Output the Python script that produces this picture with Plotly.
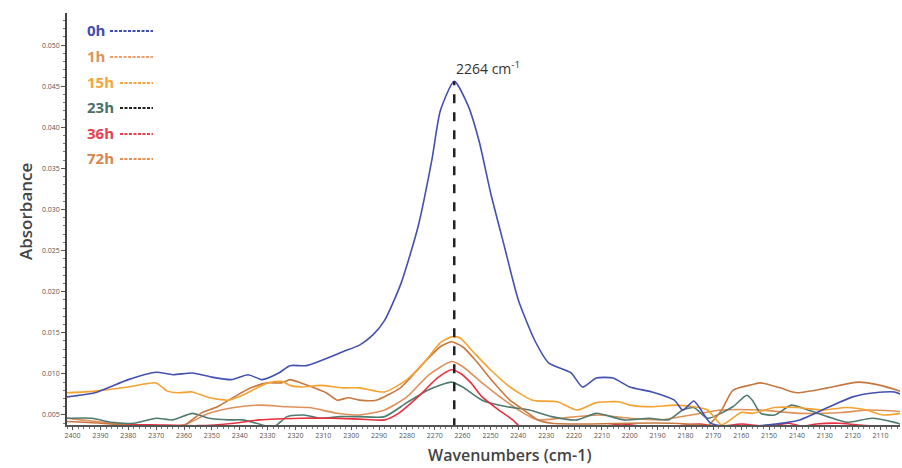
import plotly.graph_objects as go

# ---- data ----
series_names = ["0h", "1h", "15h", "23h", "36h", "72h"]

wn_0h = [2402, 2392, 2380, 2370, 2364, 2357, 2350, 2343, 2337, 2332, 2326, 2322, 2316, 2308, 2303,
         2297, 2292, 2288, 2282, 2276, 2271, 2268, 2263, 2258, 2254, 2250, 2245, 2240, 2234, 2229,
         2221, 2217, 2212, 2206, 2200, 2192, 2184, 2181, 2177, 2175, 2171, 2165, 2158, 2150, 2139,
         2129, 2120, 2112, 2105, 2102]
abs_0h = [0.0072, 0.0077, 0.0093, 0.0102, 0.0099, 0.0101, 0.0096, 0.0093, 0.0099, 0.0093, 0.0101,
          0.0110, 0.0110, 0.0120, 0.0127, 0.0135, 0.0148, 0.0165, 0.0211, 0.0279, 0.0361, 0.0420,
          0.0456, 0.0426, 0.0382, 0.0321, 0.0255, 0.0190, 0.0140, 0.0113, 0.0101, 0.0084, 0.0095,
          0.0095, 0.0084, 0.0078, 0.0068, 0.0056, 0.0067, 0.0059, 0.0040, 0.0036, 0.0036, 0.0038,
          0.0044, 0.0059, 0.0072, 0.0077, 0.0078, 0.0074]

wn_1h = [2402, 2390, 2375, 2365, 2360, 2354, 2348, 2342, 2336, 2330, 2325, 2322, 2318, 2314, 2309,
         2305, 2301, 2297, 2291, 2282, 2274, 2268, 2264, 2260, 2255, 2249, 2243, 2238, 2233, 2228,
         2215, 2200, 2185, 2175, 2172, 2167, 2163, 2156, 2153, 2146, 2140, 2129, 2118, 2110, 2102]
abs_1h = [0.0042, 0.0040, 0.0036, 0.0034, 0.0037, 0.0052, 0.0060, 0.0072, 0.0083, 0.0089, 0.0089,
          0.0093, 0.0089, 0.0084, 0.0077, 0.0068, 0.0071, 0.0068, 0.0068, 0.0084, 0.0113, 0.0133,
          0.0139, 0.0133, 0.0115, 0.0090, 0.0068, 0.0056, 0.0044, 0.0040, 0.0039, 0.0040, 0.0040,
          0.0038, 0.0037, 0.0056, 0.0080, 0.0087, 0.0089, 0.0083, 0.0077, 0.0083, 0.0090, 0.0086,
          0.0078]

wn_15h = [2402, 2392, 2380, 2370, 2366, 2362, 2357, 2351, 2344, 2339, 2330, 2325, 2322, 2318, 2311,
          2303, 2297, 2288, 2280, 2273, 2268, 2264, 2261, 2256, 2250, 2243, 2235, 2226, 2219, 2212,
          2204, 2200, 2192, 2184, 2177, 2172, 2167, 2160, 2156, 2148, 2140, 2131, 2122, 2115, 2109,
          2102]
abs_15h = [0.0077, 0.0079, 0.0084, 0.0089, 0.0079, 0.0077, 0.0078, 0.0071, 0.0068, 0.0074, 0.0089,
           0.0091, 0.0086, 0.0084, 0.0086, 0.0083, 0.0083, 0.0078, 0.0093, 0.0117, 0.0138, 0.0145,
           0.0144, 0.0126, 0.0105, 0.0084, 0.0068, 0.0066, 0.0056, 0.0065, 0.0066, 0.0062, 0.0060,
           0.0062, 0.0060, 0.0056, 0.0038, 0.0053, 0.0052, 0.0059, 0.0059, 0.0056, 0.0059, 0.0056,
           0.0050, 0.0052]

wn_23h = [2402, 2393, 2386, 2378, 2370, 2364, 2357, 2351, 2344, 2339, 2334, 2328, 2323, 2317, 2311,
          2304, 2297, 2288, 2280, 2272, 2264, 2260, 2253, 2244, 2236, 2228, 2219, 2212, 2202, 2193,
          2186, 2181, 2177, 2172, 2163, 2158, 2156, 2153, 2148, 2142, 2136, 2129, 2122, 2113, 2105,
          2102]
abs_23h = [0.0046, 0.0046, 0.0041, 0.0040, 0.0046, 0.0044, 0.0052, 0.0046, 0.0044, 0.0044, 0.0040,
           0.0035, 0.0048, 0.0050, 0.0046, 0.0048, 0.0048, 0.0048, 0.0065, 0.0081, 0.0090, 0.0084,
           0.0068, 0.0060, 0.0056, 0.0048, 0.0044, 0.0052, 0.0044, 0.0046, 0.0044, 0.0056, 0.0059,
           0.0046, 0.0060, 0.0074, 0.0068, 0.0052, 0.0050, 0.0062, 0.0056, 0.0048, 0.0041, 0.0046,
           0.0041, 0.0038]

wn_36h = [2402, 2390, 2380, 2372, 2355, 2342, 2333, 2318, 2307, 2297, 2288, 2283, 2276, 2269, 2264,
          2261, 2257, 2253, 2247, 2242, 2239, 2225, 2210, 2203, 2195, 2185, 2175, 2168, 2160, 2150,
          2143, 2138, 2133, 2125, 2115, 2102]
abs_36h = [0.0036, 0.0036, 0.0038, 0.0038, 0.0037, 0.0040, 0.0044, 0.0046, 0.0046, 0.0045, 0.0044,
           0.0052, 0.0072, 0.0095, 0.0105, 0.0101, 0.0089, 0.0072, 0.0056, 0.0044, 0.0035, 0.0036,
           0.0036, 0.0039, 0.0036, 0.0036, 0.0039, 0.0036, 0.0039, 0.0036, 0.0040, 0.0036, 0.0039,
           0.0040, 0.0037, 0.0036]

wn_72h = [2402, 2397, 2386, 2375, 2360, 2351, 2342, 2333, 2323, 2315, 2305, 2297, 2288, 2280, 2272,
          2264, 2260, 2253, 2245, 2238, 2233, 2225, 2211, 2200, 2189, 2178, 2167, 2153, 2139, 2124,
          2114, 2102]
abs_72h = [0.0046, 0.0044, 0.0040, 0.0035, 0.0038, 0.0052, 0.0059, 0.0062, 0.0060, 0.0059, 0.0052,
           0.0050, 0.0056, 0.0072, 0.0099, 0.0115, 0.0109, 0.0089, 0.0068, 0.0052, 0.0044, 0.0046,
           0.0050, 0.0046, 0.0044, 0.0050, 0.0056, 0.0056, 0.0052, 0.0053, 0.0056, 0.0054]

peak_wn = 2263
peak_abs = 0.0456
peak_label = "2264 cm<sup>-1</sup>"

y_ticks = [0.005, 0.010, 0.015, 0.020, 0.025, 0.030, 0.035, 0.040, 0.045, 0.050]
x_ticks = list(range(2400, 2100, -10))

# ---- styles ----
line_colors = {"0h": "#4450b2", "1h": "#c8783f", "15h": "#f5a232",
               "23h": "#4f7a70", "36h": "#e8303f", "72h": "#e0905a"}
legend_text_colors = {"0h": "#3f4db0", "1h": "#e0935a", "15h": "#f5a53a",
                      "23h": "#4a706a", "36h": "#e8404f", "72h": "#d9844c"}
legend_dash_colors = {"0h": "#3f4db0", "1h": "#f0a070", "15h": "#f5a53a",
                      "23h": "#222222", "36h": "#e8404f", "72h": "#e8904f"}

data = {"0h": (wn_0h, abs_0h), "1h": (wn_1h, abs_1h), "15h": (wn_15h, abs_15h),
        "23h": (wn_23h, abs_23h), "36h": (wn_36h, abs_36h), "72h": (wn_72h, abs_72h)}

fig = go.Figure()
for name in ["72h", "23h", "36h", "1h", "15h", "0h"]:
    xs, ys = data[name]
    fig.add_trace(go.Scatter(x=xs, y=ys, mode="lines", name=name,
                             line=dict(color=line_colors[name], width=1.6,
                                       shape="spline", smoothing=0.6),
                             showlegend=False, hoverinfo="skip"))

# vertical dashed peak line
fig.add_shape(type="line", xref="x", yref="y", x0=peak_wn, x1=peak_wn,
              y0=0.0035, y1=peak_abs, line=dict(color="#222222", width=2.5, dash="dash"))
fig.add_annotation(x=peak_wn, y=peak_abs, xref="x", yref="y", text=peak_label,
                   showarrow=False, xanchor="left", yanchor="bottom", xshift=0, yshift=1,
                   font=dict(family="Open Sans", size=14, color="#333333"))

# custom legend
W, H = 902, 468
L, R, T, B = 67, 2, 13, 43
pw, ph = W - L - R, H - T - B

def px_x(px):
    return (px - L) / pw

def px_y(py):
    return (H - B - py) / ph

row_y = [30, 56, 82, 107, 133, 158]
for name, yy in zip(series_names, row_y):
    fig.add_annotation(xref="paper", yref="paper", x=px_x(85), y=px_y(yy), text="<b>%s</b>" % name,
                       showarrow=False, xanchor="left", yanchor="middle",
                       font=dict(family="Open Sans", size=15, color=legend_text_colors[name]))
    x_start = 110 if name in ("0h", "1h") else 120
    fig.add_shape(type="line", xref="paper", yref="paper", x0=px_x(x_start), x1=px_x(153),
                  y0=px_y(yy + 1), y1=px_y(yy + 1),
                  line=dict(color=legend_dash_colors[name], width=1.8, dash="3px,1.5px"))

# axis titles as annotations
fig.add_annotation(xref="paper", yref="paper", x=px_x(25), y=px_y(212), text="Absorbance",
                   textangle=-90, showarrow=False, xanchor="center", yanchor="middle",
                   font=dict(family="Open Sans", size=17, color="#444444", weight=600))
fig.add_annotation(xref="paper", yref="paper", x=px_x(510), y=px_y(455), text="Wavenumbers (cm-1)",
                   showarrow=False, xanchor="center", yanchor="middle",
                   font=dict(family="Open Sans", size=16, color="#444444", weight=600))

fig.update_layout(
    width=W, height=H, margin=dict(l=L, r=R, t=T, b=B),
    plot_bgcolor="white", paper_bgcolor="white", showlegend=False,
    xaxis=dict(range=[2402, 2103], tickvals=x_ticks, ticktext=[str(v) for v in x_ticks],
               showgrid=False, zeroline=False, showline=True, linecolor="#555555", linewidth=1.5,
               ticks="outside", ticklen=3, tickcolor="#555555",
               minor=dict(dtick=2, ticks="outside", ticklen=2, tickcolor="#777777"),
               tickfont=dict(family="Open Sans", size=7, color="#555555")),
    yaxis=dict(range=[0.00378, 0.0539], tickvals=y_ticks, tickformat=".3f",
               showgrid=False, zeroline=False, showline=True, linecolor="#444444", linewidth=1.5,
               ticks="outside", ticklen=4, tickcolor="#555555",
               minor=dict(dtick=0.001, ticks="outside", ticklen=2, tickcolor="#777777"),
               tickfont=dict(family="Open Sans", size=7, color="#555555")),
)

fig.write_html("out.html", config={"displayModeBar": False},
               post_script="document.body.style.margin='0px';document.body.style.overflow='hidden';")
